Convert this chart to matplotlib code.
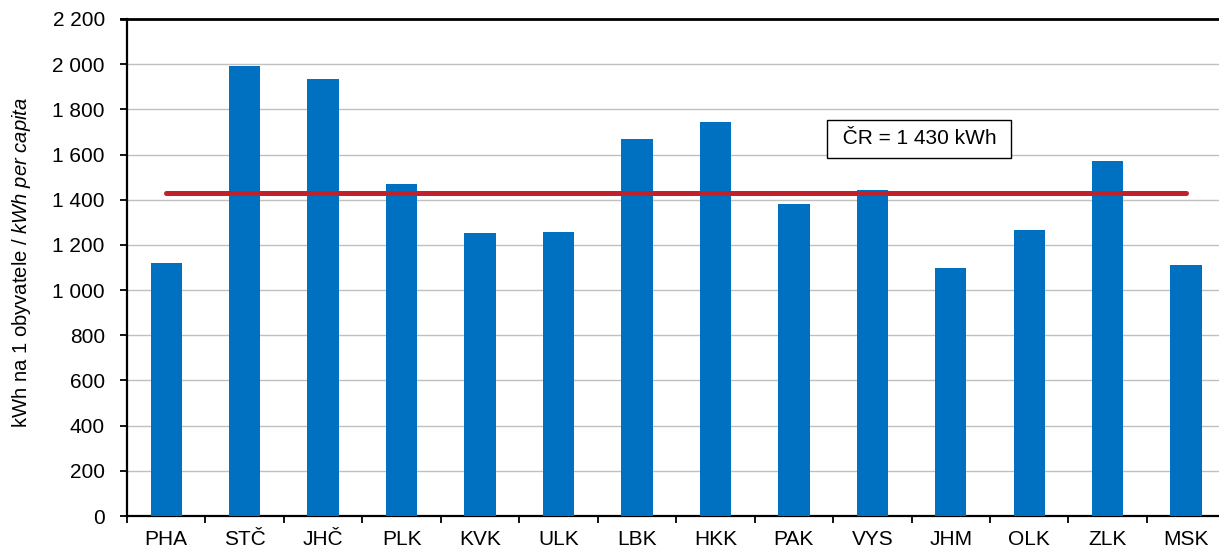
import numpy as np
import matplotlib
matplotlib.use('Agg')
from matplotlib import pyplot as plt
from matplotlib.lines import Line2D

plt.rcParams['font.family'] = ['Liberation Sans', 'DejaVu Sans']
plt.rcParams['mathtext.fontset'] = 'custom'
plt.rcParams['mathtext.rm'] = 'Liberation Sans'
plt.rcParams['mathtext.it'] = 'Liberation Sans:italic'

# regions of the Czech Republic
regions = ['PHA', 'STČ', 'JHČ', 'PLK', 'KVK', 'ULK', 'LBK',
           'HKK', 'PAK', 'VYS', 'JHM', 'OLK', 'ZLK', 'MSK']
# kWh per capita
kwh_per_capita = [1122, 1990, 1935, 1470, 1253, 1257, 1667,
                  1742, 1382, 1443, 1097, 1268, 1573, 1112]
cr_average = 1430
y_ticks = [0, 200, 400, 600, 800, 1000, 1200, 1400, 1600, 1800, 2000, 2200]

bar_color = '#0070C0'
line_color = '#C0212B'
font_size = 15


def spaced(v):
    return '{:,}'.format(v).replace(',', ' ')


fig = plt.figure(figsize=(12.19, 5.52), dpi=100)
ax = fig.add_axes([0.1042, 0.0652, 0.9010, 0.9004])

x = np.arange(len(regions))
ax.bar(x, kwh_per_capita, width=0.4, color=bar_color, zorder=3)
ax.plot([x[0], x[-1]], [cr_average, cr_average], color=line_color,
        linewidth=3.6, solid_capstyle='round', zorder=4)

ax.text(9.6, 1670, ' ČR = ' + spaced(cr_average) + ' kWh ',
        fontsize=font_size, ha='center', va='center', zorder=5,
        bbox=dict(boxstyle='square,pad=0.45', facecolor='white',
                  edgecolor='black', linewidth=1.0))

ax.set_xlim(-0.5, len(regions) - 0.5)
ax.set_ylim(0, 2200)
ax.set_yticks(y_ticks)
ax.set_yticklabels([spaced(v) for v in y_ticks])
ax.set_xticks(x)
ax.set_xticklabels(regions)
ax.set_xticks(np.arange(-0.5, len(regions)), minor=True)
ax.tick_params(axis='x', which='major', length=0, labelsize=font_size, pad=10)
ax.tick_params(axis='x', which='minor', length=5, width=1.3, direction='out')
ax.tick_params(axis='y', length=5, width=1.3, direction='out',
               labelsize=font_size, pad=11)

ax.grid(axis='y', color='#C0C0C0', linewidth=1.0, zorder=0)
ax.set_axisbelow(True)
for side in ['top', 'right']:
    ax.spines[side].set_visible(False)
for side in ['left', 'bottom']:
    ax.spines[side].set_linewidth(1.6)
    ax.spines[side].set_color('black')

ax.set_ylabel('kWh na 1 obyvatele / $\\it{kWh\\ per\\ capita}$', fontsize=14.6)
ax.yaxis.set_label_coords(-0.086, 0.511)

# horizontal rule along the top of the chart
fig.add_artist(Line2D([121 / 1219, 1.0], [0.9656, 0.9656], color='black',
                      linewidth=2.0, transform=fig.transFigure))

fig.savefig('out.png', dpi=100)
